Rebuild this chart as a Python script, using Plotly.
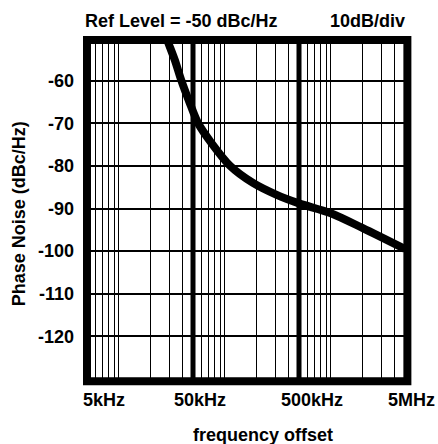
import math
import plotly.graph_objects as go

# ---- data ----
freq_hz = [25300, 29300, 33700, 38600, 46200, 55900, 75000, 112000, 184000,
           308000, 500000, 1000000, 2000000, 5000000]
phase_noise_dbc = [-47.0, -51.2, -55.2, -59.8, -65.0, -70.0, -74.7, -80.0, -84.0,
                   -86.8, -88.8, -91.1, -94.6, -99.5]

minor_grid_hz = [6e3, 7e3, 8e3, 9e3, 1e4, 2e4, 3e4, 4e4,
                 6e4, 7e4, 8e4, 9e4, 1e5, 2e5, 3e5, 4e5,
                 6e5, 7e5, 8e5, 9e5, 1e6, 2e6, 3e6, 4e6]
major_grid_hz = [5e4, 5e5]
x_tick_hz = [5e3, 5e4, 5e5, 5e6]
x_tick_text = ["5kHz", "50kHz", "500kHz", "5MHz"]
y_tick_vals = [-60, -70, -80, -90, -100, -110, -120]
y_tick_text = ["-60", "-70", "-80", "-90", "-100", "-110", "-120"]
title_left = "Ref Level = -50 dBc/Hz"
title_right = "10dB/div"
x_title = "frequency offset"
y_title = "Phase Noise (dBc/Hz)"

FONT = "Liberation Sans"
fig = go.Figure()

for f in major_grid_hz:
    fig.add_trace(go.Scatter(x=[f, f], y=[-130, -50], mode="lines",
                             line=dict(color="black", width=5),
                             hoverinfo="skip", showlegend=False))

fig.add_trace(go.Scatter(x=freq_hz, y=phase_noise_dbc, mode="lines",
                         line=dict(color="black", width=8, shape="spline", smoothing=0.8),
                         showlegend=False))

fig.update_xaxes(type="log", range=[math.log10(5e3), math.log10(5e6)],
                 tickvals=minor_grid_hz, showticklabels=False, ticks="",
                 showgrid=True, gridcolor="black", gridwidth=1,
                 zeroline=False, showline=False)
fig.update_yaxes(range=[-130, -50], tickvals=y_tick_vals, ticktext=y_tick_text,
                 ticks="", showgrid=True, gridcolor="black", gridwidth=2,
                 zeroline=False, showline=False, ticklabelstandoff=12,
                 tickfont=dict(family=FONT, size=18, color="black", weight="bold"))

annotations = []
shifts = [17, 7, 13, 6]
for f, t, s in zip(x_tick_hz, x_tick_text, shifts):
    annotations.append(dict(x=math.log10(f), y=0, xref="x", yref="paper",
                            text=t, showarrow=False, xanchor="center", yanchor="middle",
                            xshift=s, yshift=-21,
                            font=dict(family=FONT, size=18, color="black", weight="bold")))
annotations.append(dict(x=-0.0135, y=1.049, xref="paper", yref="paper", text=title_left,
                        showarrow=False, xanchor="left", yanchor="middle",
                        font=dict(family=FONT, size=18, color="black", weight="bold")))
annotations.append(dict(x=0.7588, y=1.049, xref="paper", yref="paper", text=title_right,
                        showarrow=False, xanchor="left", yanchor="middle",
                        font=dict(family=FONT, size=18, color="black", weight="bold")))
annotations.append(dict(x=0.553, y=-0.163, xref="paper", yref="paper", text=x_title,
                        showarrow=False, xanchor="center", yanchor="middle",
                        font=dict(family=FONT, size=18, color="black", weight="bold")))
annotations.append(dict(x=-0.2154, y=0.4845, xref="paper", yref="paper", text=y_title,
                        showarrow=False, xanchor="center", yanchor="middle", textangle=-90,
                        font=dict(family=FONT, size=18, color="black", weight="bold")))

fig.update_layout(
    width=438, height=444,
    margin=dict(l=87, r=33, t=38, b=65),
    paper_bgcolor="white", plot_bgcolor="white",
    annotations=annotations,
    shapes=[dict(type="rect", xref="paper", yref="paper",
                 x0=0, x1=1.0075, y0=-0.0067, y1=0.994,
                 line=dict(color="black", width=8), layer="above")],
)

fig.write_html("out.html")
